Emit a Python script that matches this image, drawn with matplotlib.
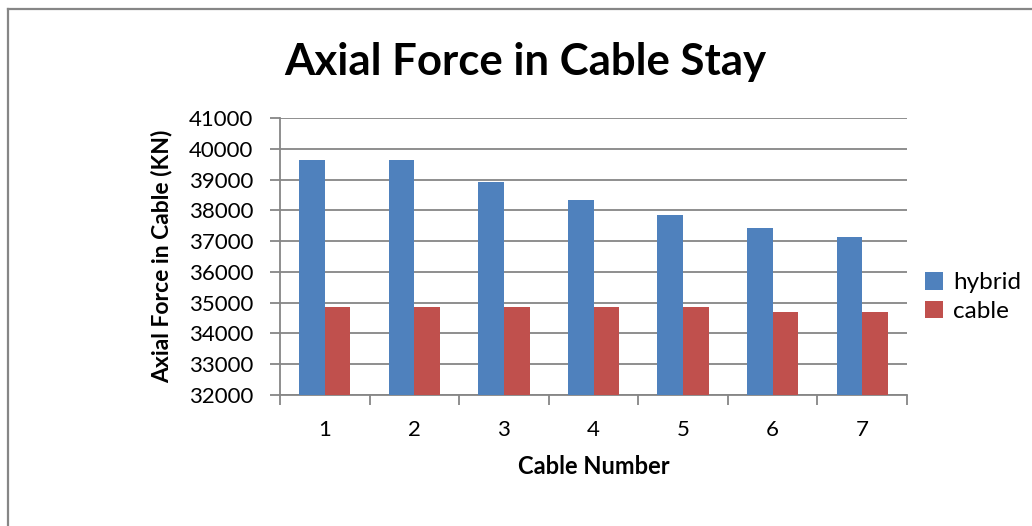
import numpy as np
import matplotlib.pyplot as plt
from matplotlib.lines import Line2D

plt.rcParams['font.family'] = ['Lato', 'DejaVu Sans']

cables = [1, 2, 3, 4, 5, 6, 7]
hybrid = [39630, 39630, 38920, 38340, 37840, 37440, 37130]
cable = [34870, 34870, 34870, 34860, 34860, 34710, 34710]

W, H = 1032, 526
fig = plt.figure(figsize=(W / 100, H / 100), dpi=100)
ax = fig.add_axes([280 / W, 1 - 395 / H, 627 / W, 277 / H])

x = np.arange(len(cables))
w = 1 / 3.5
ax.bar(x - w / 2, hybrid, w, color='#4f81bd', label='hybrid', zorder=3)
ax.bar(x + w / 2, cable, w, color='#c0504d', label='cable', zorder=3)

ax.set_ylim(32000, 41000)
ax.set_yticks(np.arange(32000, 41001, 1000))
ax.set_xlim(-0.5, len(cables) - 0.5)
ax.set_xticks(x)
ax.set_xticklabels([str(c) for c in cables])
ax.set_xticks(np.arange(-0.5, len(cables), 1), minor=True)
ax.tick_params(axis='x', which='major', length=0, pad=18, labelsize=16)
ax.tick_params(axis='x', which='minor', length=7, width=1.3, color='#868686')
ax.tick_params(axis='y', length=7, width=1.3, color='#868686', labelsize=16, pad=12)
ax.grid(axis='y', color='#868686', linewidth=1.3, zorder=0)
for s in ['top', 'right']:
    ax.spines[s].set_visible(False)
for s in ['left', 'bottom']:
    ax.spines[s].set_color('#868686')
    ax.spines[s].set_linewidth(1.3)

ax.set_xlabel('Cable Number', fontsize=17, fontweight='bold', va='center')
ax.xaxis.set_label_coords(0.5, (395 - 467) / 277)
ax.set_ylabel('Axial Force in Cable (KN)', fontsize=16.5, fontweight='bold', va='center')
ax.yaxis.set_label_coords((162 - 280) / 627, 0.5)
fig.text(525 / W, 1 - 62 / H, 'Axial Force in Cable Stay', fontsize=31.5,
         fontweight='bold', ha='center', va='center')

ax.legend(loc='center left', bbox_to_anchor=((925 - 280) / 627, (395 - 297) / 277),
          frameon=False, fontsize=17.5, handlelength=0.75, handleheight=0.75,
          handletextpad=0.4, labelspacing=0.3, borderpad=0, borderaxespad=0)

# chart area border (left and top edges only visible)
fig.add_artist(Line2D([7.5 / W, 7.5 / W], [0, 1 - 9 / H], transform=fig.transFigure,
                      color='#868686', linewidth=1.6))
fig.add_artist(Line2D([7.5 / W, 1], [1 - 9 / H, 1 - 9 / H], transform=fig.transFigure,
                      color='#868686', linewidth=1.6))

fig.savefig('out.png', dpi=100)
